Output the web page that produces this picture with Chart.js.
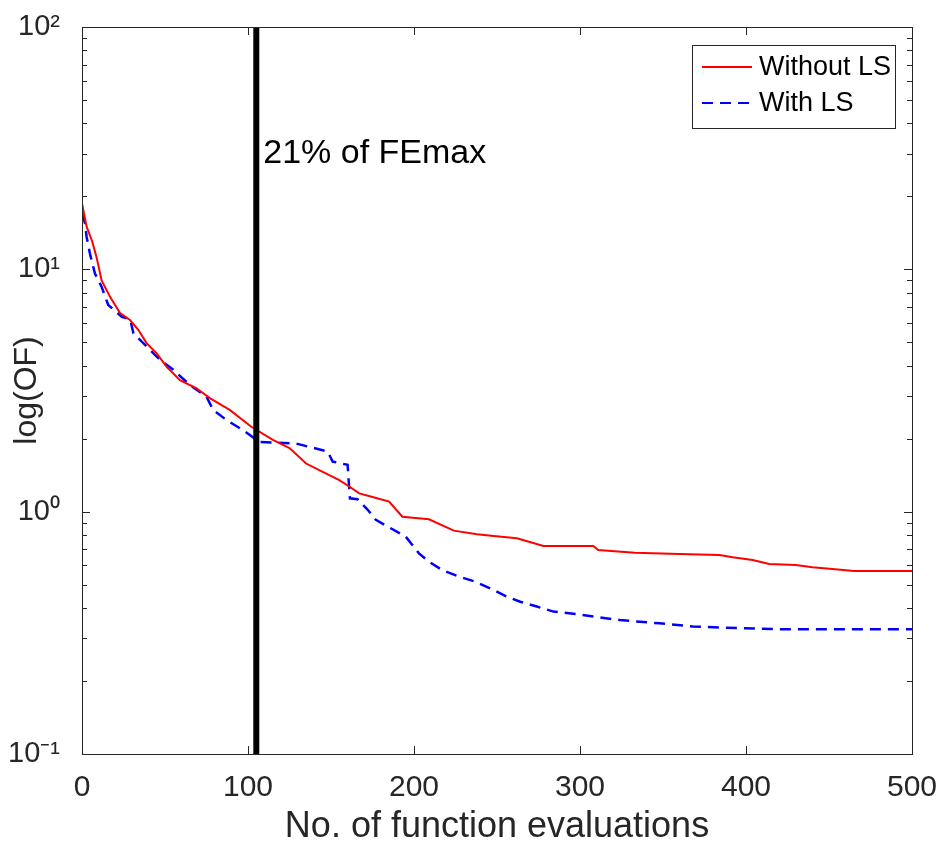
<!DOCTYPE html>
<html>
<head>
<meta charset="utf-8">
<script src="https://cdn.jsdelivr.net/npm/chart.js@4"></script>
<style>
  body { margin: 0; background: #fff; }
  #wrap { width: 939px; height: 845px; }
</style>
</head>
<body>
<div id="wrap"><canvas id="conv-chart" width="939" height="845"></canvas></div>
<script>
// convergence data
const evalsWithout = [0, 2.8, 6.2, 8.8, 11.8, 16.9, 22.9, 28.9, 34, 39, 45, 51, 59, 69, 77, 89, 102, 115, 125, 135, 145, 155, 161, 167, 175, 185, 193, 209, 224, 238, 248, 262, 278, 308, 311, 333, 360, 384, 392, 404, 414, 430, 440, 452, 465, 500];
const ofWithout = [18.7, 15.0, 13.0, 11.2, 9.0, 7.7, 6.6, 6.18, 5.62, 4.95, 4.5, 3.96, 3.49, 3.23, 2.94, 2.63, 2.24, 1.98, 1.83, 1.58, 1.46, 1.35, 1.27, 1.19, 1.15, 1.1, 0.953, 0.93, 0.835, 0.807, 0.794, 0.776, 0.722, 0.722, 0.695, 0.677, 0.669, 0.662, 0.648, 0.632, 0.608, 0.603, 0.59, 0.58, 0.569, 0.569];

const evalsWith = [0, 1.8, 2.8, 4.8, 7.8, 11.8, 15.8, 24, 29, 31, 39, 47, 55, 65, 75, 79, 87, 97, 105, 107, 129, 137, 148, 151, 160, 161.4, 166, 172, 177, 186, 195, 203, 209, 217, 227, 237, 248, 256, 264, 274, 284, 298, 308, 324, 348, 368, 388, 424, 500];
const ofWith = [17.0, 15.5, 13.6, 11.6, 9.6, 8.47, 7.13, 6.37, 6.22, 5.44, 4.8, 4.23, 3.85, 3.33, 2.98, 2.63, 2.39, 2.17, 1.98, 1.94, 1.91, 1.85, 1.77, 1.61, 1.56, 1.135, 1.125, 1.02, 0.925, 0.854, 0.789, 0.673, 0.622, 0.574, 0.54, 0.514, 0.475, 0.446, 0.425, 0.406, 0.387, 0.378, 0.369, 0.357, 0.346, 0.336, 0.332, 0.327, 0.327];

const seriesNames = ['Without LS', 'With LS'];
const markerX = 105;            // 21% of FEmax (500)
const markerText = '21% of FEmax';
const markerTextY = 30;         // log value where the note sits

const xTicks = [0, 100, 200, 300, 400, 500];
const yTickValues = [0.1, 1, 10, 100];
const yTickLabels = ['10\u207B\u00B9', '10\u2070', '10\u00B9', '10\u00B2'];

const axisColor = '#262626';
const fontFamily = '"Liberation Sans", Arial, Helvetica, sans-serif';

const toPoints = (xs, ys) => xs.map((x, i) => ({ x: x, y: ys[i] }));

// minor log ticks 1..9 per decade
const yMinor = [];
for (let e = -1; e < 2; e++) {
    for (let m = 1; m < 10; m++) yMinor.push(+(m * Math.pow(10, e)).toPrecision(3));
}
yMinor.push(100);

const isDecade = v => Math.abs(Math.log10(v) - Math.round(Math.log10(v))) < 1e-9;

// MATLAB style box, inward ticks, note and legend
const matlabFrame = {
    id: 'matlabFrame',
    afterDatasetsDraw(chart) {
        const ctx = chart.ctx;
        const a = chart.chartArea;
        const xs = chart.scales.x, ys = chart.scales.y;
        ctx.save();
        ctx.strokeStyle = axisColor;
        ctx.lineWidth = 1;
        ctx.beginPath();
        xTicks.forEach(v => {
            const px = Math.round(xs.getPixelForValue(v)) + 0.5;
            ctx.moveTo(px, a.bottom); ctx.lineTo(px, a.bottom - 8);
            ctx.moveTo(px, a.top); ctx.lineTo(px, a.top + 8);
        });
        yMinor.forEach(v => {
            const py = Math.round(ys.getPixelForValue(v)) + 0.5;
            const len = isDecade(v) ? 8 : 5;
            ctx.moveTo(a.left, py); ctx.lineTo(a.left + len, py);
            ctx.moveTo(a.right, py); ctx.lineTo(a.right - len, py);
        });
        ctx.stroke();
        ctx.strokeRect(Math.round(a.left) + 0.5, Math.round(a.top) + 0.5,
            Math.round(a.right - a.left), Math.round(a.bottom - a.top));

        // note next to the vertical line
        ctx.fillStyle = '#000';
        ctx.font = '34px ' + fontFamily;
        ctx.textBaseline = 'middle';
        ctx.textAlign = 'left';
        ctx.fillText(markerText, xs.getPixelForValue(markerX) + 7, ys.getPixelForValue(markerTextY));

        // legend box
        const bw = 203, bh = 83;
        const bx = a.right - 17 - bw, by = a.top + 18;
        ctx.fillStyle = '#fff';
        ctx.fillRect(bx, by, bw, bh);
        ctx.strokeStyle = axisColor;
        ctx.strokeRect(Math.round(bx) + 0.5, Math.round(by) + 0.5, bw, bh);
        ctx.font = '27px ' + fontFamily;
        const rows = [chart.data.datasets[1], chart.data.datasets[2]];
        rows.forEach((ds, i) => {
            const ly = by + 22 + i * 36;
            ctx.beginPath();
            ctx.strokeStyle = ds.borderColor;
            ctx.lineWidth = 2;
            ctx.setLineDash(ds.borderDash || []);
            ctx.moveTo(bx + 10, ly); ctx.lineTo(bx + 60, ly);
            ctx.stroke();
            ctx.setLineDash([]);
            ctx.fillStyle = '#000';
            ctx.fillText(ds.label, bx + 67, ly + 1);
        });
        ctx.restore();
    }
};

document.addEventListener('DOMContentLoaded', () => {
    new Chart(document.getElementById('conv-chart'), {
        type: 'line',
        data: {
            datasets: [
                {
                    label: 'marker',
                    data: [{ x: markerX, y: 0.1 }, { x: markerX, y: 100 }],
                    borderColor: '#000',
                    borderWidth: 6,
                    pointRadius: 0,
                    order: 0
                },
                {
                    label: seriesNames[0],
                    data: toPoints(evalsWithout, ofWithout),
                    borderColor: 'rgb(255, 0, 0)',
                    borderWidth: 2,
                    pointRadius: 0,
                    tension: 0,
                    order: 1
                },
                {
                    label: seriesNames[1],
                    data: toPoints(evalsWith, ofWith),
                    borderColor: 'rgb(0, 0, 255)',
                    borderWidth: 2.5,
                    borderDash: [11, 7],
                    pointRadius: 0,
                    tension: 0,
                    order: 2
                }
            ]
        },
        options: {
            responsive: false,
            animation: false,
            layout: { padding: { top: 27, right: 27, left: 0, bottom: 0 } },
            plugins: {
                legend: { display: false },
                tooltip: { enabled: false }
            },
            scales: {
                x: {
                    type: 'linear',
                    min: 0,
                    max: 500,
                    grid: { display: false },
                    border: { display: false },
                    afterFit: s => { s.height = 91; s.paddingLeft = 0; s.paddingRight = 0; },
                    afterBuildTicks: s => { s.ticks = xTicks.map(v => ({ value: v })); },
                    ticks: {
                        padding: 8,
                        maxRotation: 0,
                        autoSkip: false,
                        color: axisColor,
                        font: { family: fontFamily, size: 30 }
                    },
                    title: {
                        display: true,
                        text: 'No. of function evaluations',
                        color: axisColor,
                        font: { family: fontFamily, size: 36, lineHeight: 1.0 },
                        padding: { top: 0, bottom: 0 }
                    }
                },
                y: {
                    type: 'logarithmic',
                    min: 0.1,
                    max: 100,
                    grid: { display: false },
                    border: { display: false },
                    afterFit: s => { s.width = 82; s.paddingTop = 0; s.paddingBottom = 0; },
                    afterBuildTicks: s => { s.ticks = yMinor.map(v => ({ value: v })); },
                    ticks: {
                        padding: 14,
                        autoSkip: false,
                        color: axisColor,
                        font: { family: fontFamily, size: 29 },
                        callback: v => {
                            const i = yTickValues.findIndex(t => Math.abs(t - v) < 1e-9);
                            return i >= 0 ? yTickLabels[i] : '';
                        }
                    },
                    title: {
                        display: true,
                        text: 'log(OF)',
                        color: axisColor,
                        font: { family: fontFamily, size: 32 },
                        padding: { top: 8, bottom: 0 }
                    }
                }
            }
        },
        plugins: [matlabFrame]
    });
});
</script>
</body>
</html>
